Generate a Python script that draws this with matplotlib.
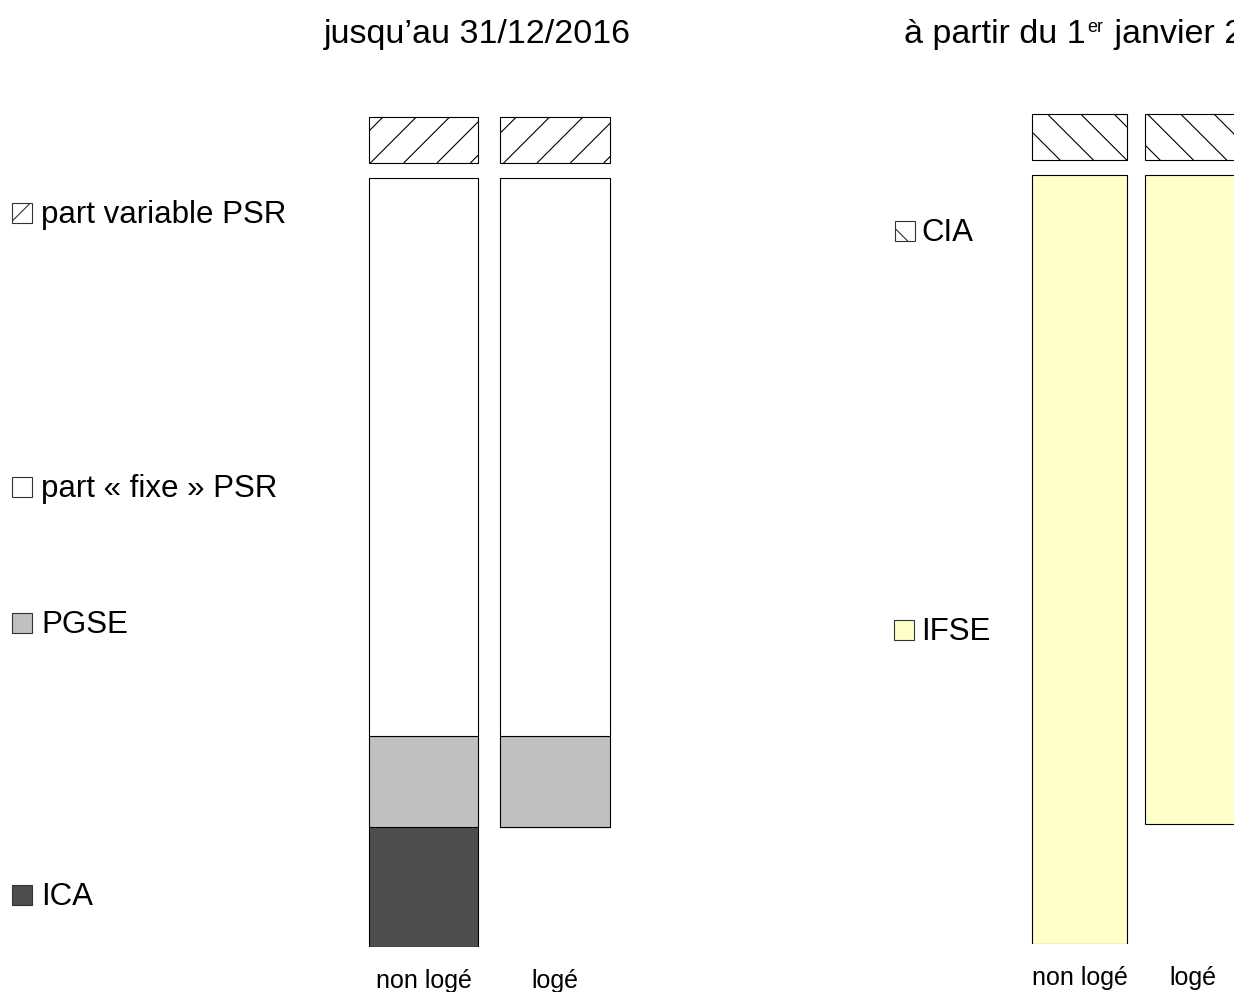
import matplotlib.pyplot as plt
from matplotlib.patches import Rectangle

plt.rcParams['font.family'] = ['Liberation Sans', 'DejaVu Sans']
plt.rcParams['hatch.linewidth'] = 0.8

# données (unités relatives)
categories = ['non logé', 'logé']
offset = [0, 120]      # logé : pas d'ICA, la barre part plus haut
ica = [120, 0]
pgse = [91, 91]
psr_fixe = [558, 558]
psr_variable = [46, 46]
ifse = [769, 649]
cia = [46, 46]
gap = 15

W, H = 1234, 992
fig = plt.figure(figsize=(W / 100, H / 100), dpi=100)

# jusqu'au 31/12/2016
ax1 = fig.add_axes([357.75 / W, 45 / H, 263 / W, 850 / H])
x = [0, 1]
w1 = 0.829
kw = dict(edgecolor='black', linewidth=0.8)
b = [o + v for o, v in zip(offset, ica)]
ax1.bar(x, ica, w1, bottom=offset, color='#4d4d4d', **kw)
ax1.bar(x, pgse, w1, bottom=b, color='#c0c0c0', **kw)
b = [o + v for o, v in zip(b, pgse)]
ax1.bar(x, psr_fixe, w1, bottom=b, color='white', **kw)
b = [o + v + gap for o, v in zip(b, psr_fixe)]
ax1.bar(x, psr_variable, w1, bottom=b, color='white', hatch='/', **kw)

# à partir du 1er janvier 2017
ax2 = fig.add_axes([1023 / W, 48 / H, 226 / W, 850 / H])
w2 = 0.841
ax2.bar(x, ifse, w2, bottom=offset, color='#ffffcc', **kw)
b = [o + v + gap for o, v in zip(offset, ifse)]
ax2.bar(x, cia, w2, bottom=b, color='white', hatch='\\', **kw)

for ax in (ax1, ax2):
    ax.set_xlim(-0.5, 1.5)
    ax.set_ylim(0, 850)
    ax.set_xticks(x, categories, fontsize=18)
    ax.tick_params(axis='x', length=0, pad=16)
    ax.set_yticks([])
    for s in ax.spines.values():
        s.set_visible(False)
    ax.patch.set_alpha(0)

# légendes (y = ligne de base du texte, en pixels)
def entry(label, yb, xs, xt, color, hatch=None):
    fig.add_artist(Rectangle((xs / W, 1 - yb / H), 20 / W, 20 / H,
                             transform=fig.transFigure, facecolor=color,
                             edgecolor='#333333', linewidth=0.8, hatch=hatch))
    fig.text(xt / W, 1 - yb / H, label, fontsize=22.5, va='baseline',
             ha='left')

entry('part variable PSR', 223, 12, 41, 'white', '/')
entry('part « fixe » PSR', 497, 12, 41, 'white')
entry('PGSE', 633, 12, 41, '#c0c0c0')
entry('ICA', 905, 12, 41, '#4d4d4d')
entry('CIA', 241, 895, 921, 'white', '\\')
entry('IFSE', 640, 894, 921, '#ffffcc')

fig.text(477.5 / W, 1 - 43 / H, 'jusqu’au 31/12/2016', fontsize=24.5,
         ha='center', va='baseline')

# titre de droite avec « er » en exposant
r = fig.canvas.get_renderer()
yb = 1 - 43 / H
t1 = fig.text(904 / W, yb, 'à partir du 1', fontsize=24.5, ha='left',
              va='baseline')
e1 = t1.get_window_extent(r)
t2 = fig.text((e1.x1 + 2) / W, yb + 11 / H, 'er', fontsize=13, ha='left',
              va='baseline')
e2 = t2.get_window_extent(r)
fig.text((e2.x1 + 1) / W, yb, ' janvier 2017', fontsize=24.5, ha='left',
         va='baseline')

fig.savefig('out.png', dpi=100)
